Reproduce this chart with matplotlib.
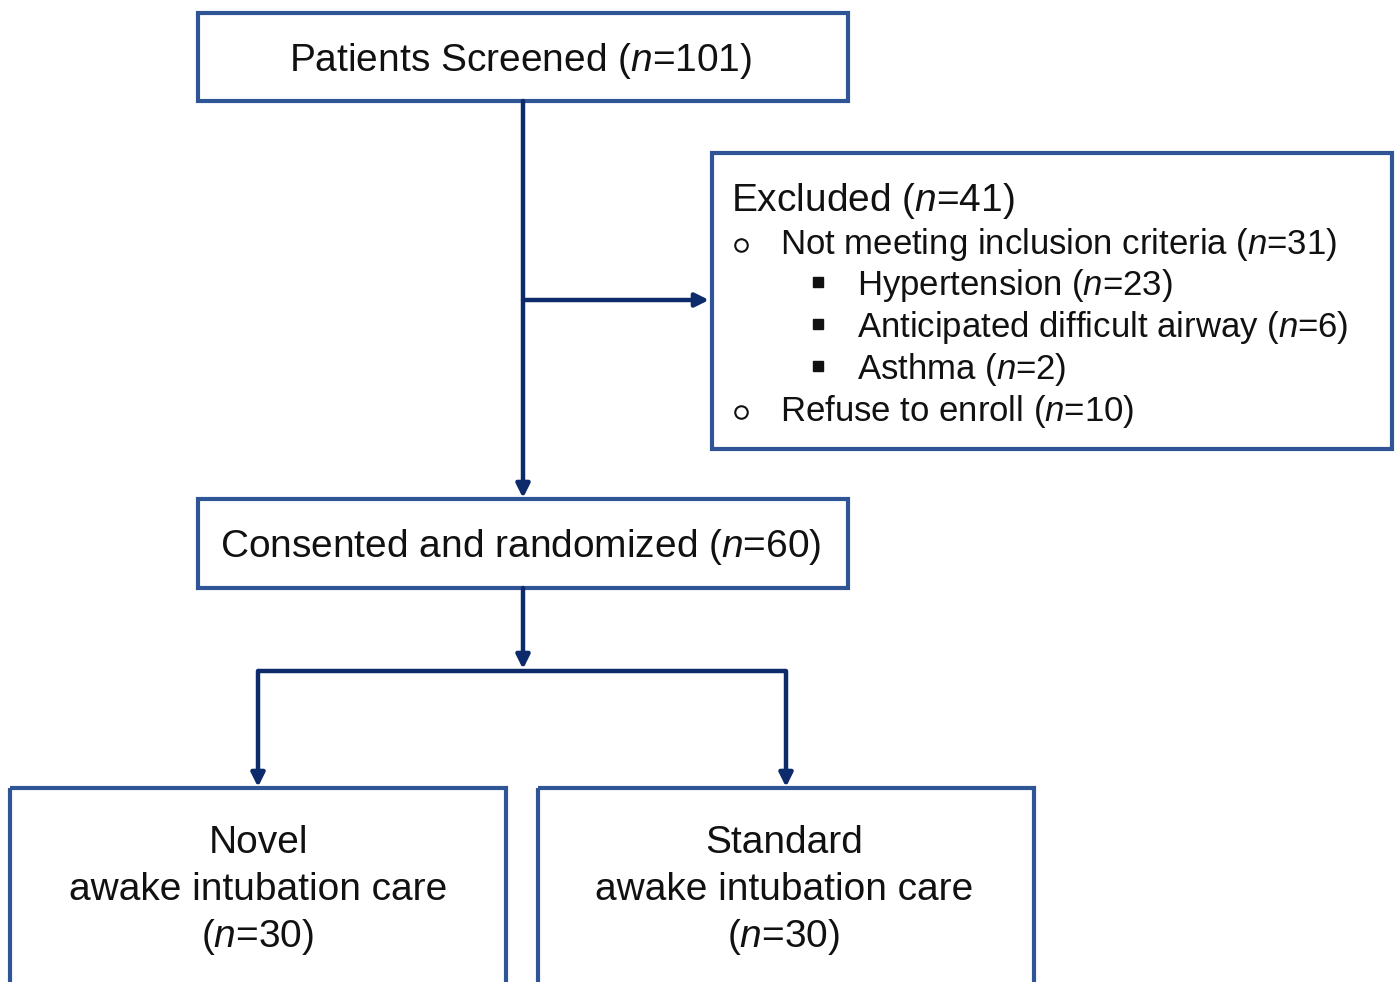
import matplotlib
matplotlib.use("Agg")
import matplotlib.pyplot as plt
from matplotlib.patches import Rectangle

plt.rcParams['font.family'] = ['Liberation Sans', 'DejaVu Sans']
plt.rcParams['mathtext.fontset'] = 'custom'
plt.rcParams['mathtext.rm'] = 'Liberation Sans'
plt.rcParams['mathtext.it'] = 'Liberation Sans:italic'

# ---- content ----
screened_label = "Patients Screened"
screened_n = 101
excluded_label = "Excluded"
excluded_n = 41
reasons_lvl1 = ["Not meeting inclusion criteria", "Refuse to enroll"]
reasons_lvl1_n = [31, 10]
reasons_lvl2 = ["Hypertension", "Anticipated difficult airway", "Asthma"]
reasons_lvl2_n = [23, 6, 2]
randomized_label = "Consented and randomized"
randomized_n = 60
arm_names = ["Novel", "Standard"]
arm_sub = "awake intubation care"
arm_n = [30, 30]

W, H = 1395, 982
fig = plt.figure(figsize=(W / 100, H / 100), dpi=100)
ax = fig.add_axes([0, 0, 1, 1])
ax.set_xlim(0, W)
ax.set_ylim(H, 0)
ax.axis('off')

box_col = '#2f5597'
line_col = '#0d2a6b'
txt_col = '#111111'

def nlab(s, n):
    return f"{s} ($\\mathit{{n}}$={n})"

def box(x0, y0, x1, y1):
    ax.add_patch(Rectangle((x0, y0), x1 - x0, y1 - y0, fill=False,
                           edgecolor=box_col, linewidth=3.0, clip_on=True))

def arrow(x0, y0, x1, y1):
    ax.annotate('', xy=(x1, y1), xytext=(x0, y0),
                arrowprops=dict(arrowstyle='-|>,head_length=0.8,head_width=0.4',
                                color=line_col, lw=3.2, shrinkA=0, shrinkB=0))

def line(xs, ys):
    ax.plot(xs, ys, color=line_col, lw=3.2, solid_capstyle='butt')

# boxes
box(198, 13, 848, 101)
box(712, 153, 1392, 449)
box(198, 499, 848, 588)
box(10, 788, 506, 1000)
box(538, 788, 1034, 1000)

# connectors
arrow(523, 101, 523, 498)
arrow(523, 300, 709, 300)
arrow(523, 588, 523, 669)
line([258, 786], [671, 671])
arrow(258, 671, 258, 787)
arrow(786, 671, 786, 787)

# texts
big = 28
small = 25
dy = 3
ax.text(521, 58 + dy, nlab(screened_label, screened_n), fontsize=big, ha='center', va='center', color=txt_col)
ax.text(521, 544 + dy, nlab(randomized_label, randomized_n), fontsize=big, ha='center', va='center', color=txt_col)

ax.text(731, 198 + dy, nlab(excluded_label, excluded_n), fontsize=big, ha='left', va='center', color=txt_col)
ys1 = [241, 408]
for lab, n, y in zip(reasons_lvl1, reasons_lvl1_n, ys1):
    ax.plot([741], [y + 4], marker='o', markersize=9, markerfacecolor='white',
            markeredgecolor=txt_col, markeredgewidth=1.5, linestyle='none')
    ax.text(780, y + dy, nlab(lab, n), fontsize=small, ha='left', va='center', color=txt_col)
ys2 = [282, 324, 366]
for lab, n, y in zip(reasons_lvl2, reasons_lvl2_n, ys2):
    ax.plot([818], [y], marker='s', markersize=7, color=txt_col, linestyle='none')
    ax.text(857, y + dy, nlab(lab, n), fontsize=small, ha='left', va='center', color=txt_col)

for cx, name, n in zip([258, 784], arm_names, arm_n):
    ax.text(cx, 840 + dy, name, fontsize=big, ha='center', va='center', color=txt_col)
    ax.text(cx, 887 + dy, arm_sub, fontsize=big, ha='center', va='center', color=txt_col)
    ax.text(cx, 934 + dy, f"($\\mathit{{n}}$={n})", fontsize=big, ha='center', va='center', color=txt_col)

fig.savefig('out.png', dpi=100)
